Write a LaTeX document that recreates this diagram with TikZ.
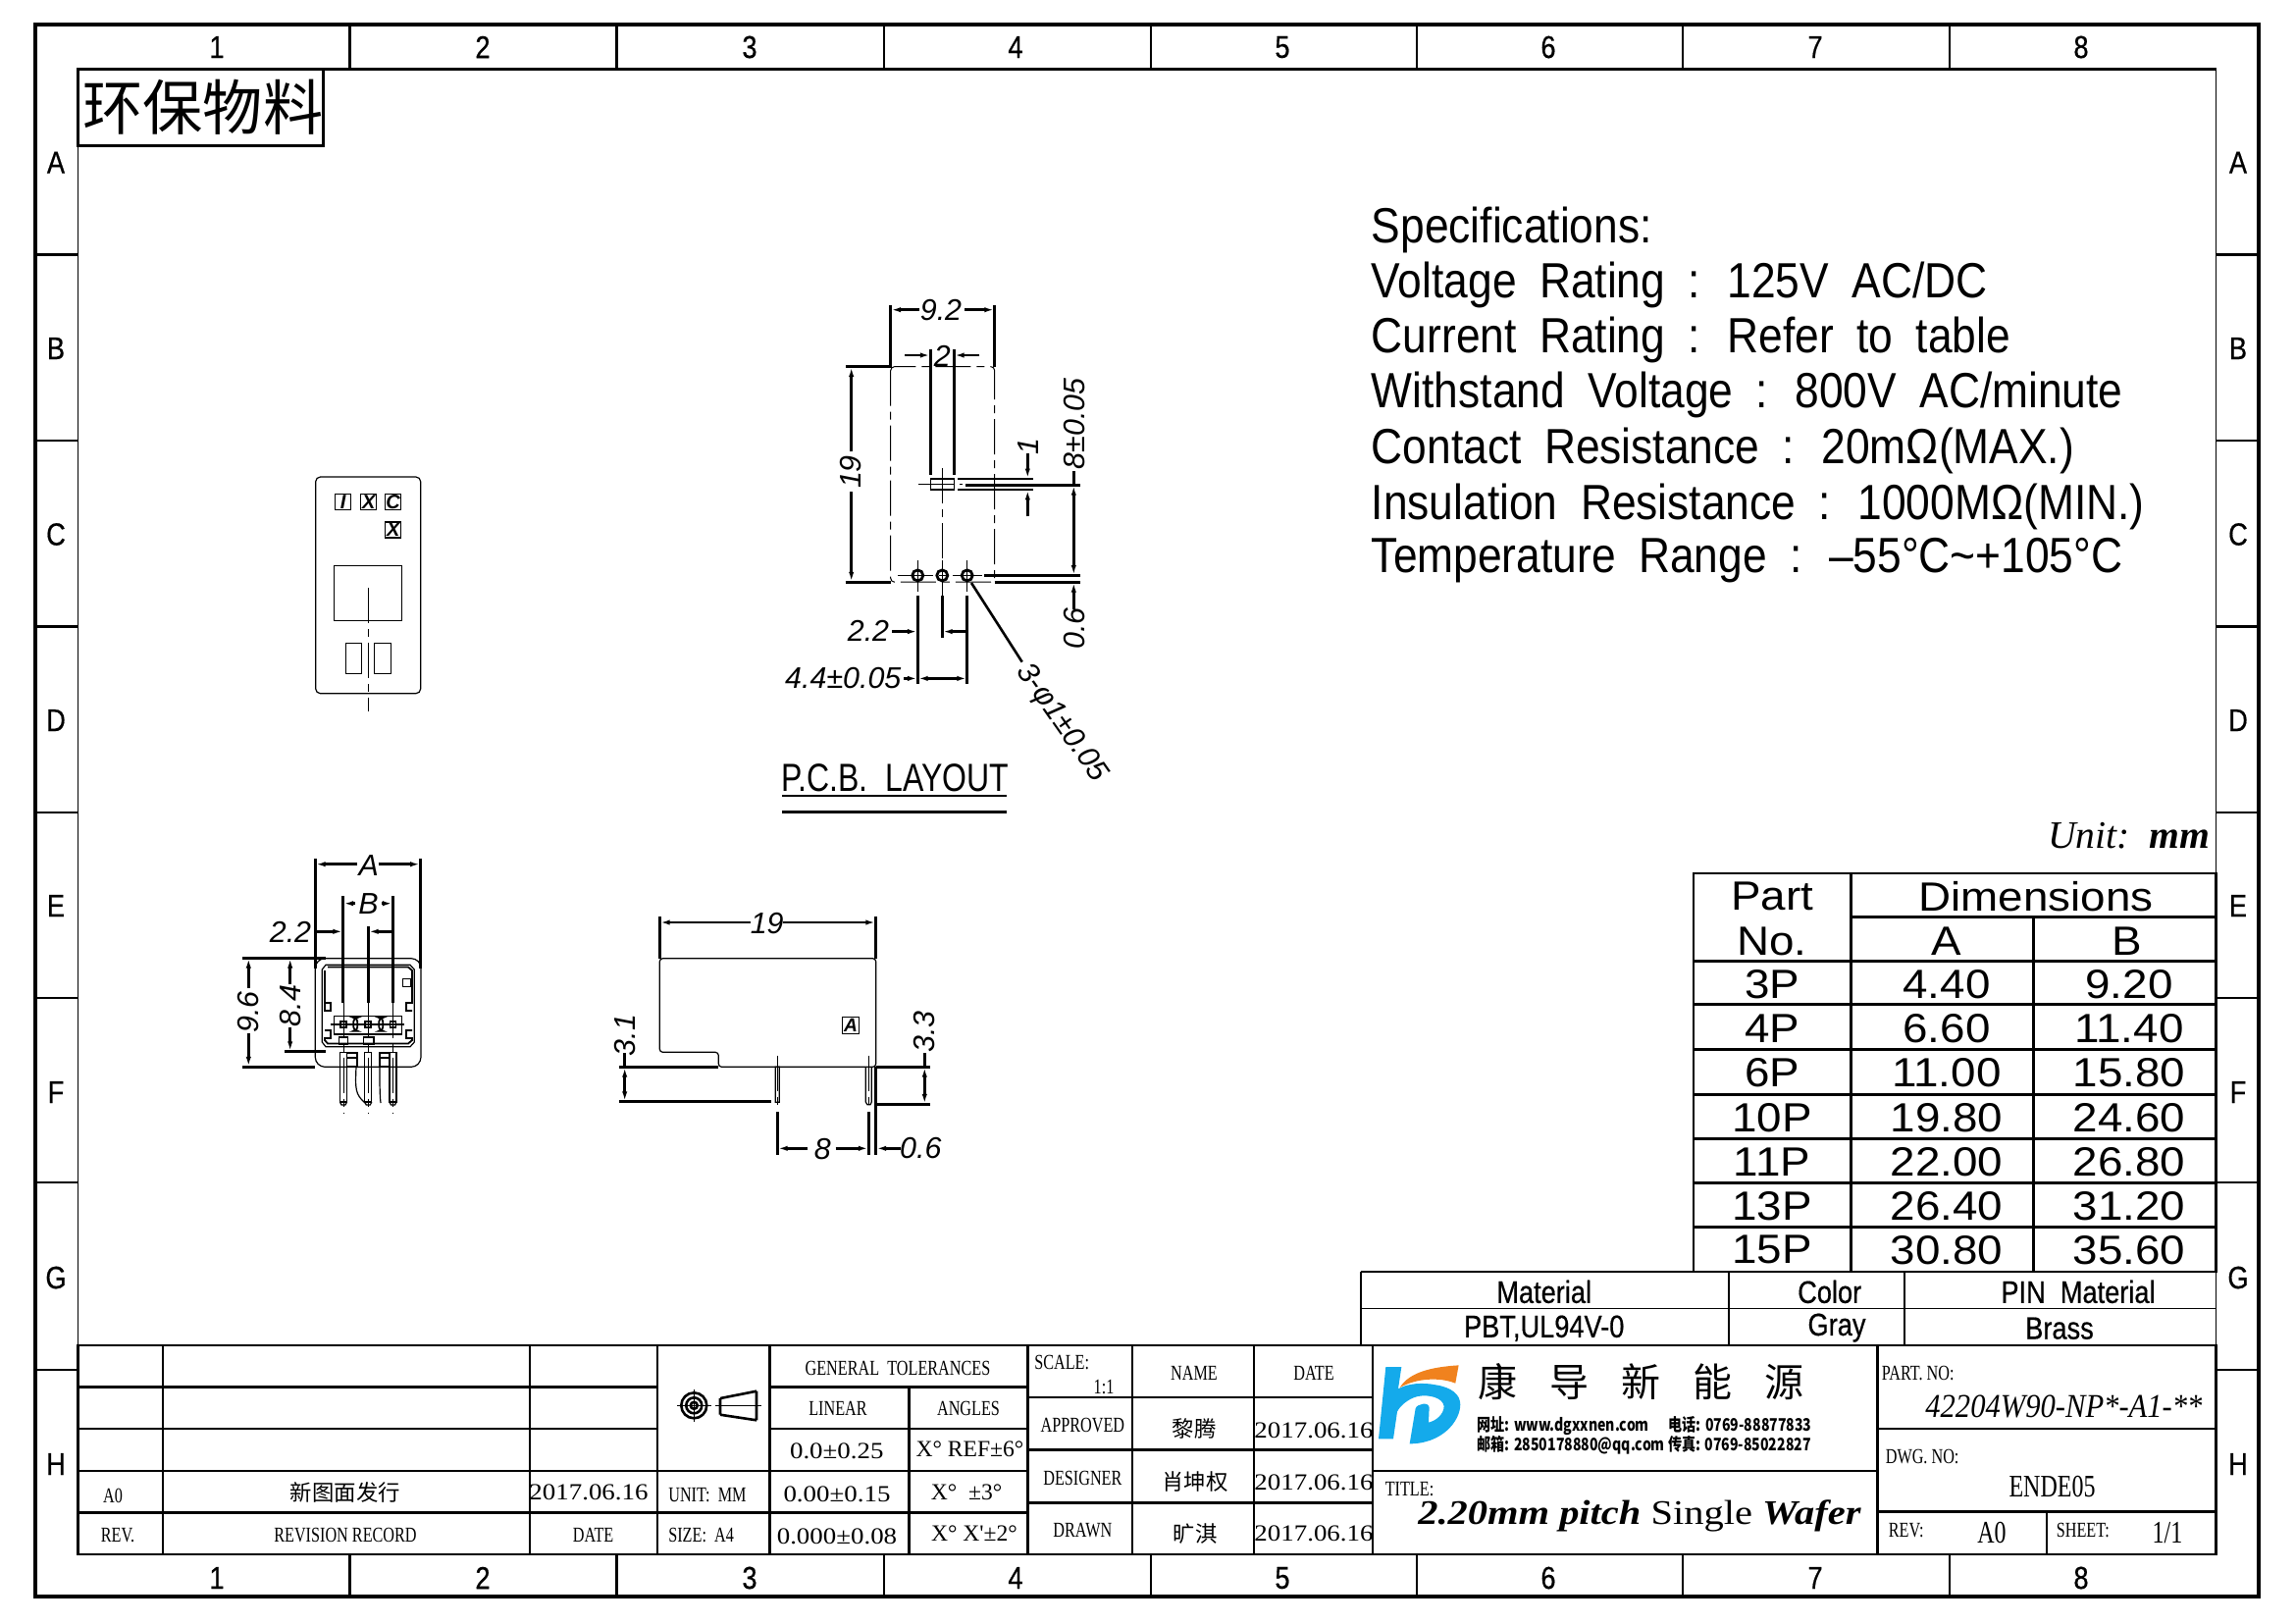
\documentclass[tikz,border=0pt]{standalone}
\usepackage{fontspec}
\usetikzlibrary{arrows.meta}
\newfontfamily\cadsans{Liberation Sans}
\newfontfamily\cadwide[FakeStretch=1.1]{Liberation Sans}
\newfontfamily\cadspec[FakeStretch=0.88,WordSpace=1.9]{Liberation Sans}
\newfontfamily\cadnarrow[FakeStretch=0.8]{Liberation Sans}
\newfontfamily\cadmat[FakeStretch=0.85,FakeBold=0.5]{Liberation Sans}
\newfontfamily\cadser[FakeStretch=0.75]{Liberation Serif}
\newfontfamily\cadpart[FakeStretch=0.9]{Liberation Serif}
\newfontfamily\cadnum[FakeStretch=1.14]{Liberation Serif}
\newfontfamily\cadang{Liberation Serif}
\newfontfamily\cadtitle[FakeStretch=1.15]{Liberation Serif}
\newfontfamily\cjk{Noto Sans CJK SC}
\newfontfamily\cjknarrow[FakeStretch=0.8]{Noto Sans CJK SC}
\newcommand{\fsz}[1]{\fontsize{#1}{#1}\selectfont}
\definecolor{logoblue}{RGB}{20,170,235}
\definecolor{logoorange}{RGB}{240,130,30}
\begin{document}
\begin{tikzpicture}[x=.25pt,y=-.25pt]
\tikzset{
heavyline/.style={line width=.85pt},
midline/.style={line width=.65pt},
thinline/.style={line width=.3pt},
dimline/.style={line width=.65pt},
dimarrow/.style={dimline,-{Latex[length=2.6pt,width=1.3pt]}},
centerline/.style={line width=.25pt,dash pattern=on 9pt off 1.5pt on 2pt off 1.5pt},
zonelabel/.style={font=\cadmat\fsz{8},inner sep=0pt},
dimlabel/.style={font=\cadsans\itshape\fsz{7.6},inner sep=0pt},
cell/.style={font=\cadser\fsz{5.4},inner sep=0pt,yshift=-.35pt},
cellnum/.style={font=\cadnum\fsz{5.9},inner sep=0pt,yshift=-.35pt},
cellang/.style={font=\cadang\fsz{5.9},inner sep=0pt,yshift=-.35pt},
cellcjk/.style={font=\cjk\fsz{5.6},inner sep=0pt,yshift=-.35pt},
tablecell/.style={font=\cadwide\fsz{10.4},inner sep=0pt,yshift=-.45pt},
matcell/.style={font=\cadmat\fsz{8},inner sep=0pt,yshift=-.35pt},
speclabel/.style={font=\cadspec\fsz{12.6},anchor=west,inner sep=0pt,yshift=-1.1pt},
}
\useasboundingbox (0,0) rectangle (2339,1654);
\draw[heavyline] (36,25) rectangle (2302,1627);
\draw[heavyline] (79.5,70.5) -- (2258.5,70.5);
\draw[thinline] (79.5,70.5) -- (79.5,1584) (2258.5,70.5) -- (2258.5,1584);
\foreach \tickx in {356.5,628.5,901,1173,1444,1715,1987} {
  \draw[midline] (\tickx,25) -- (\tickx,70.5) (\tickx,1584) -- (\tickx,1627);
}
\foreach \ticky in {259.6,449,638.4,828,1017,1205,1396} {
  \draw[midline] (36,\ticky) -- (79.5,\ticky) (2258.5,\ticky) -- (2302,\ticky);
}
\foreach \znum/\zx [count=\i] in {1/221,2/492,3/764,4/1035,5/1307,6/1578,7/1850,8/2121} {
  \node[zonelabel] (top\i) at (\zx,48) {\znum};
  \node[zonelabel] (bot\i) at (\zx,1608) {\znum};
}
\foreach \zlet/\zy [count=\i] in {A/165.6,B/355,C/544.5,D/734,E/923,F/1113,G/1302,H/1492} {
  \node[zonelabel] (lft\i) at (57,\zy) {\zlet};
  \node[zonelabel] (rgt\i) at (2281,\zy) {\zlet};
}
% material note
\draw[heavyline] (79.5,70.5) rectangle (329.5,148.3);
\node[font=\cjk\fsz{15.3},inner sep=0pt] (note) at (207,109) {环保物料};
% specifications
\node[speclabel] (spec1) at (1397,229.7) {Specifications:};
\node[speclabel] (spec2) at (1397,286.4) {Voltage Rating : 125V AC/DC};
\node[speclabel] (spec3) at (1397,341.6) {Current Rating : Refer to table};
\node[speclabel] (spec4) at (1397,398.3) {Withstand Voltage : 800V AC/minute};
\node[speclabel] (spec5) at (1397,455) {Contact Resistance : 20mΩ(MAX.)};
\node[speclabel] (spec6) at (1397,511.7) {Insulation Resistance : 1000MΩ(MIN.)};
\node[speclabel] (spec7) at (1397,566.8) {Temperature Range : –55°C\textasciitilde+105°C};
% top view
\draw[thinline,rounded corners=1.2pt] (321.7,486) rectangle (428.7,706.7);
\foreach \bx/\by/\blet [count=\i] in {341.7/503.3/I,367.7/503.3/X,392.7/503.3/C,392.7/532/X} {
  \draw[thinline] (\bx,\by) rectangle ++(16,16);
  \node[font=\cadsans\bfseries\itshape\fsz{5},inner sep=0pt] (mark\i) at (\bx+8,\by+8) {\blet};
}
\draw[thinline] (340.3,576.3) rectangle (409.7,632.3);
\draw[thinline] (352.3,655.3) rectangle (368.7,686.7) (381.3,655.3) rectangle (398.7,686.7);
\draw[centerline] (375.3,599) -- (375.3,725);
% pcb layout
\draw[centerline,rounded corners=1pt] (907.7,373.6) -- (907.7,593.2) -- (1013.7,593.2) -- (1013.7,373.6) -- cycle;
\draw[thinline] (948.3,487.9) rectangle (972.3,499);
\draw[centerline] (935.7,493.6) -- (980.7,493.6) (960.3,477) -- (960.3,606.8);
\foreach \hx in {935.3,960.3,985.7} {
  \draw[line width=.7pt] (\hx,586.4) circle[radius=5.5];
  \draw[centerline] (\hx,571) -- (\hx,603);
}
\draw[centerline] (915,586.4) -- (1001,586.4);
\draw[dimline] (907.7,311.4) -- (907.7,373.6) -- (861.7,373.6) (1013.7,311.4) -- (1013.7,373.6);
\draw[dimarrow] (936.7,315.7) -- (907.7,315.7);
\draw[dimarrow] (983.3,315.7) -- (1013.7,315.7);
\node[dimlabel] (pcbwidth) at (959,315.7) {9.2};
\draw[dimline] (948.3,356) -- (948.3,483.6) (972.3,356) -- (972.3,483.6);
\draw[dimarrow] (922.3,362) -- (948.3,362);
\draw[dimarrow] (998.3,362) -- (972.3,362);
\node[dimlabel] (pcbslot) at (960.3,363) {2};
\draw[dimline] (861.7,593.2) -- (907.7,593.2);
\draw[dimarrow] (867.7,460) -- (867.7,373.6);
\draw[dimarrow] (867.7,501) -- (867.7,593.2);
\node[dimlabel,rotate=90] (pcbheight) at (867,481) {19};
\draw[dimline] (976,487.9) -- (1053.3,487.9) (976,499) -- (1053.3,499) (984,494.3) -- (1100.7,494.3);
\draw[dimarrow] (1047.3,462) -- (1047.3,487.9);
\draw[dimarrow] (1047.3,526.4) -- (1047.3,499);
\node[dimlabel,rotate=90] (pcbone) at (1048,455) {1};
\draw[dimline] (1003.3,586.4) -- (1100.7,586.4) (1013.7,593.2) -- (1100.7,593.2);
\draw[dimarrow] (1094.3,540) -- (1094.3,494.3);
\draw[dimarrow] (1094.3,540) -- (1094.3,586.4);
\draw[dimline] (1094.3,494.3) -- (1094.3,480);
\node[dimlabel,rotate=90] (pcbpitch) at (1095,431.8) {8±0.05};
\draw[dimarrow] (1094.3,621) -- (1094.3,593.2);
\node[dimlabel,rotate=90] (pcbedge) at (1095,640.7) {0.6};
\draw[dimline] (935.3,606.8) -- (935.3,697) (960.3,606.8) -- (960.3,649.6) (985.7,606.8) -- (985.7,697);
\draw[dimarrow] (909,643.6) -- (935.3,643.6);
\draw[dimarrow] (985.7,643.6) -- (960.3,643.6);
\node[dimlabel] (pcbhalf) at (885,643) {2.2};
\draw[dimarrow] (921.3,691.4) -- (935.3,691.4);
\draw[dimarrow] (960,691.4) -- (935.3,691.4);
\draw[dimarrow] (960,691.4) -- (985.7,691.4);
\node[dimlabel] (pcbtotal) at (859.3,691.4) {4.4±0.05};
\draw[dimline] (990,594) -- (1041.7,674.6);
\node[dimlabel,rotate=-55] (pcbhole) at (1081.7,737) {3-φ1±0.05};
\node[font=\cadnarrow\fsz{10},inner sep=0pt] (pcbtitle) at (912,793) {P.C.B.\ \ LAYOUT};
\draw[dimline] (797.3,811) -- (1025.7,811) (797.3,827.5) -- (1025.7,827.5);
% front view
\draw[thinline,rounded corners=2.5pt] (321.3,976.7) rectangle (429,1087.3);
\draw[thinline] (332,983.3) -- (418,983.3) -- (422.3,988) -- (422.3,1062) -- (418,1066.7) -- (332,1066.7) -- (328.3,1062) -- (328.3,988) -- cycle;
\draw[thinline,line width=.45pt] (334,985.5) -- (416,985.5) -- (420,989) -- (420,1022) -- (414,1022) -- (414,1030) -- (420,1030) (420,1050) -- (414,1050) -- (414,1058) -- (420,1058) -- (420,1060) -- (416,1063.5) -- (334,1063.5) -- (331,1060) -- (331,1058) -- (337,1058) -- (337,1050) -- (331,1050) (331,1030) -- (337,1030) -- (337,1022) -- (331,1022) -- (331,989) -- cycle;
\draw[thinline] (410.7,997.7) rectangle (419,1005.7);
\draw[thinline] (340.3,1035.3) rectangle (409.7,1054);
\draw[thinline] (336.7,1044) -- (411.7,1044);
\foreach \px in {350,375.3,400.5} {
  \draw[line width=.45pt] (\px-3,1041) rectangle (\px+3,1047);
  \draw[thinline] (\px-3.5,1072.7) rectangle (\px+3.5,1123);
  \draw[thinline] (\px-3.5,1123) -- (\px-2,1126) -- (\px+2,1126) -- (\px+3.5,1123);
  \draw[centerline] (\px,1021.7) -- (\px,1134);
}
\draw[line width=.45pt,rounded corners=1pt] (360.3,1037) rectangle (364.3,1050.7) (386.3,1037) rectangle (390.3,1050.7);
\draw[thinline] (345.3,1057) rectangle (354.7,1064) (370.7,1057) rectangle (381,1064);
\draw[line width=.45pt] (353.5,1072.7) rectangle (364,1087.3) (386.7,1072.7) rectangle (397,1087.3);
\draw[line width=.45pt] (353.5,1077.7) -- (364,1077.7) (386.7,1077.7) -- (397,1077.7);
\draw[thinline] (363,1087.3) .. controls (362,1110) and (362,1115) .. (372,1124) (388,1124) .. controls (387,1115) and (387,1105) .. (387,1087.3);
\draw[dimline] (321.3,875) -- (321.3,986.7) (428.5,875) -- (428.5,986.7);
\draw[dimarrow] (364,880.7) -- (321.3,880.7);
\draw[dimarrow] (385.7,880.7) -- (428.5,880.7);
\node[dimlabel] (frontA) at (375.7,882) {A};
\draw[dimline] (349.7,913.3) -- (349.7,1021.7) (400.3,913.3) -- (400.3,1021.7) (375.3,944.3) -- (375.3,1021.7);
\draw[dimarrow] (362,920.7) -- (349.7,920.7);
\draw[dimarrow] (389,920.7) -- (400.3,920.7);
\node[dimlabel] (frontB) at (375.5,921) {B};
\draw[dimarrow] (321.3,949.3) -- (349.7,949.3);
\draw[dimarrow] (400.3,949.3) -- (375.3,949.3);
\node[dimlabel] (frontpitch) at (296,950) {2.2};
\draw[dimline] (247.3,976.2) -- (331.7,976.2) (247.3,1087.3) -- (321.3,1087.3) (290,1071.7) -- (331.7,1071.7);
\draw[dimarrow] (253.3,1006.7) -- (253.3,976.2);
\draw[dimarrow] (253.3,1053.3) -- (253.3,1087.3);
\node[dimlabel,rotate=90] (frontheight) at (253.3,1031.7) {9.6};
\draw[dimarrow] (295.7,1003) -- (295.7,976.2);
\draw[dimarrow] (295.7,1046.7) -- (295.7,1071.7);
\node[dimlabel,rotate=90] (frontinner) at (295.7,1025) {8.4};
% side view
\draw[thinline,rounded corners=.8pt] (672.3,976.7) -- (892.7,976.7) -- (892.7,1087.3) -- (732.3,1087.3) -- (732.3,1072.3) -- (672.3,1072.3) -- cycle;
\draw[thinline] (858.3,1036.7) rectangle (875.7,1053.3);
\node[font=\cadsans\bfseries\itshape\fsz{4.8},inner sep=0pt] (sidemark) at (867,1045) {A};
\draw[thinline] (790.3,1087.3) rectangle (794.3,1123.3) (882.3,1087.3) -- (882.3,1123) -- (884,1125.7) -- (887,1125.7) -- (888.3,1123) -- (888.3,1087.3);
\draw[centerline] (792.3,1075.7) -- (792.3,1130) (885.3,1075.7) -- (885.3,1130);
\draw[dimline] (672.3,934) -- (672.3,976.7) (892.7,934) -- (892.7,976.7);
\draw[dimarrow] (765,940) -- (672.3,940);
\draw[dimarrow] (798.3,940) -- (892.7,940);
\node[dimlabel] (sidewidth) at (781.7,941) {19};
\draw[dimline] (630.7,1087.3) -- (731.7,1087.3) (630.7,1122.7) -- (786,1122.7);
\draw[dimline] (636.7,1073) -- (636.7,1087.3);
\draw[dimarrow] (636.7,1105) -- (636.7,1087.3);
\draw[dimarrow] (636.7,1105) -- (636.7,1122.7);
\node[dimlabel,rotate=90] (sidelow) at (637,1055) {3.1};
\draw[dimline] (893.3,1087.3) -- (948.3,1087.3) (893.3,1125.3) -- (948.3,1125.3);
\draw[dimline] (942.3,1073) -- (942.3,1087.3);
\draw[dimarrow] (942.3,1106) -- (942.3,1087.3);
\draw[dimarrow] (942.3,1106) -- (942.3,1125.3);
\node[dimlabel,rotate=90] (sidepin) at (942,1051.7) {3.3};
\draw[dimline] (792.3,1133.3) -- (792.3,1176.7) (885.3,1133.3) -- (885.3,1176.7) (892.7,1087.3) -- (892.7,1176.7);
\draw[dimarrow] (823,1170.3) -- (792.3,1170.3);
\draw[dimarrow] (851.7,1170.3) -- (885.3,1170.3);
\node[dimlabel] (sidepitch) at (838.3,1171) {8};
\draw[dimarrow] (918.3,1170.3) -- (892.7,1170.3);
\node[dimlabel] (sidethick) at (938.3,1170) {0.6};
% dimension table
\node[font=\cadang\itshape\fsz{9.9},inner sep=0pt,anchor=east] (unit) at (2253,852) {Unit:\ \ \textbf{mm}};
\draw[midline] (1726,890) rectangle (2258.5,1296);
\draw[midline] (1886.4,890) -- (1886.4,1296) (2072.4,934.3) -- (2072.4,1296);
\draw[midline] (1886.4,934.3) -- (2258.5,934.3);
\foreach \rowy in {979.3,1023.7,1069.7,1115.3,1160.7,1205.3,1250.3} {
  \draw[midline] (1726,\rowy) -- (2258.5,\rowy);
}
\node[tablecell] (partA) at (1806,912) {Part};
\node[tablecell] (partB) at (1806,958) {No.};
\node[tablecell] (dims) at (2075,912) {Dimensions};
\node[tablecell] (colA) at (1984,957) {A};
\node[tablecell] (colB) at (2168,957) {B};
\foreach \pno/\aval/\bval/\ry [count=\i] in {3P/4.40/9.20/1001,4P/6.60/11.40/1046,6P/11.00/15.80/1091.5,10P/19.80/24.60/1137,11P/22.00/26.80/1182,13P/26.40/31.20/1227,15P/30.80/35.60/1272} {
  \node[tablecell] (rowP\i) at (1806,\ry) {\pno};
  \node[tablecell] (rowA\i) at (1984,\ry) {\aval};
  \node[tablecell] (rowB\i) at (2170,\ry) {\bval};
}
% material block
\draw[thinline] (1387,1296) -- (1726,1296) (1387,1296) -- (1387,1371) (1387,1333.3) -- (2258.5,1333.3);
\draw[thinline] (1762,1296) -- (1762,1371) (1941,1296) -- (1941,1371);
\node[matcell] (matA) at (1573.7,1315) {Material};
\node[matcell] (matB) at (1864.7,1315) {Color};
\node[matcell] (matC) at (2118,1315) {PIN\ \ Material};
\node[matcell] (valA) at (1573.7,1352.3) {PBT,UL94V-0};
\node[matcell] (valB) at (1872,1351.7) {Gray};
\node[matcell] (valC) at (2099,1352.3) {Brass};
% title block
\draw[midline] (79.5,1371) rectangle (2258.5,1584);
\draw[midline] (79,1413.3) -- (670,1413.3) (79,1456) -- (670,1456) (79,1499) -- (1047.5,1499) (79,1541.7) -- (1047.5,1541.7);
\draw[midline] (165.8,1371) -- (165.8,1584) (540,1371) -- (540,1584) (670,1371) -- (670,1584) (784.7,1371) -- (784.7,1584) (926.5,1413.3) -- (926.5,1584);
\draw[midline] (784.7,1413.3) -- (1047.5,1413.3) (784.7,1456) -- (1047.5,1456);
\draw[midline] (1047.5,1371) -- (1047.5,1584) (1154,1371) -- (1154,1584) (1278,1371) -- (1278,1584) (1399,1371) -- (1399,1584);
\draw[midline] (1047.5,1424) -- (1399,1424) (1047.5,1477.3) -- (1399,1477.3) (1047.5,1531.7) -- (1399,1531.7);
\draw[midline] (1400,1499) -- (1913.5,1499) (1913.5,1371) -- (1913.5,1584) (1913.5,1456) -- (2258.5,1456) (1913.5,1540.7) -- (2258.5,1540.7) (2085.8,1540.7) -- (2085.8,1584);
\draw[midline] (707.3,1432.3) circle[radius=13] (707.3,1432.3) circle[radius=8] (707.3,1432.3) circle[radius=3.5];
\draw[thinline] (690,1432.3) -- (724.5,1432.3) (707.3,1416) -- (707.3,1449);
\draw[midline] (734,1425) -- (771,1417.7) (734,1441.7) -- (771,1447.3) (734,1425) -- (734,1441.7) (771,1417.7) -- (771,1447.3);
\draw[thinline] (729,1432.3) -- (776,1432.3);
\node[cell] (revA) at (115,1523) {A0};
\node[cellcjk] (revB) at (352,1520) {新图面发行};
\node[cellnum] (revC) at (600,1519) {2017.06.16};
\node[cell] (headA) at (120,1563) {REV.};
\node[cell] (headB) at (352,1563) {REVISION RECORD};
\node[cell] (headC) at (604.6,1563) {DATE};
\node[cell,anchor=west] (unitcell) at (680.5,1521.7) {UNIT:\ \ MM};
\node[cell,anchor=west] (sizecell) at (680.5,1563) {SIZE:\ \ A4};
\node[cell] (tolA) at (915,1392.7) {GENERAL\ \ TOLERANCES};
\node[cell] (tolB) at (854,1434) {LINEAR};
\node[cell] (tolC) at (987,1434) {ANGLES};
\node[cellnum] (tolD) at (852.8,1477) {0.0±0.25};
\node[cellang] (tolE) at (988.5,1475) {X° REF±6°};
\node[cellnum] (tolF) at (853,1521.7) {0.00±0.15};
\node[cellang] (tolG) at (985,1519) {X°\ \ ±3°};
\node[cellnum] (tolH) at (853,1564) {0.000±0.08};
\node[cellang] (tolI) at (993,1561.7) {X° X'±2°};
\node[cell,anchor=west] (scaleA) at (1053.5,1386.7) {SCALE:};
\node[cell] (scaleB) at (1125,1411.7) {1:1};
\node[cell] (signA) at (1103.4,1451) {APPROVED};
\node[cell] (signB) at (1103.4,1505) {DESIGNER};
\node[cell] (signC) at (1103.4,1558.3) {DRAWN};
\node[cell] (nameA) at (1217,1397.7) {NAME};
\node[cellcjk] (nameB) at (1217,1455) {黎腾};
\node[cellcjk] (nameC) at (1218,1509) {肖坤权};
\node[cellcjk] (nameD) at (1218,1562) {旷淇};
\node[cell] (dateA) at (1339,1398.3) {DATE};
\node[cellnum] (dateB) at (1339,1456) {2017.06.16};
\node[cellnum] (dateC) at (1339,1509) {2017.06.16};
\node[cellnum] (dateD) at (1339,1561) {2017.06.16};
\begin{scope}[shift={(1400,1378)},x=.0833pt,y=-.0833pt]
\fill[logoblue] (37,45) -- (85,45) -- (75,112) .. controls (105,95) and (150,92) .. (190,100) .. controls (240,108) and (265,130) .. (265,160) .. controls (265,210) and (210,280) .. (110,280) -- (128,172) .. controls (132,158) and (170,150) .. (170,170) -- (168,215) .. controls (190,210) and (215,190) .. (215,165) .. controls (212,140) and (170,128) .. (135,135) .. controls (105,142) and (80,165) .. (72,182) -- (60,265) -- (15,265) -- cycle;
\fill[logoorange] (80,108) .. controls (110,60) and (180,45) .. (260,40) -- (250,95) .. controls (200,75) and (130,80) .. (80,108) -- cycle;
\end{scope}
\node[font=\cjk\fsz{10},inner sep=0pt,anchor=west] (brand) at (1506,1408) {康\hspace{8.2pt}导\hspace{8.2pt}新\hspace{8.2pt}能\hspace{8.2pt}源};
\node[font=\cjknarrow\bfseries\fsz{4.4},inner sep=0pt,anchor=west] (webline) at (1505,1453) {网址: www.dgxxnen.com\hspace{5pt}电话: 0769-88877833};
\node[font=\cjknarrow\bfseries\fsz{4.4},inner sep=0pt,anchor=west] (mailline) at (1505,1473) {邮箱: 2850178880@qq.com 传真: 0769-85022827};
\node[cell,anchor=west] (titlelabel) at (1411,1515.7) {TITLE:};
\node[font=\cadtitle\fsz{8.8},inner sep=0pt,anchor=west] (titletext) at (1444.5,1545) {\textit{\textbf{2.20mm pitch}} Single \textit{\textbf{Wafer}}};
\node[cell,anchor=west] (partlabel) at (1917,1397.7) {PART. NO:};
\node[font=\cadpart\itshape\fsz{8.5},inner sep=0pt,anchor=east] (partno) at (2245.3,1433.3) {42204W90-NP*-A1-**};
\node[cell,anchor=west] (dwglabel) at (1921,1483.3) {DWG. NO:};
\node[font=\cadser\fsz{8},inner sep=0pt] (dwgno) at (2091.5,1515) {ENDE05};
\node[cell,anchor=west] (revlabel) at (1924,1557.7) {REV:};
\node[font=\cadser\fsz{8},inner sep=0pt] (revno) at (2030,1561.7) {A0};
\node[cell,anchor=west] (sheetlabel) at (2095,1558.3) {SHEET:};
\node[font=\cadser\fsz{8},inner sep=0pt] (sheetno) at (2209,1561.7) {1/1};
\end{tikzpicture}
\end{document}
